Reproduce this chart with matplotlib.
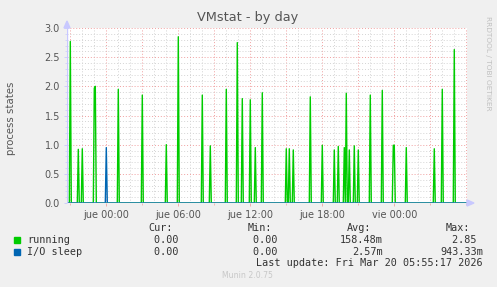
import numpy as np
import matplotlib
matplotlib.use("Agg")
import matplotlib.pyplot as plt

# ---- data (hours relative to "jue 00:00") ----
run_t = [-3.0, -2.33, -2.0, -1.0, -0.917, 1.0, 3.0, 5.0, 6.0, 8.0, 8.67, 10.0, 10.92,
         11.33, 12.0, 12.42, 13.0, 15.0, 15.25, 15.58, 17.0, 18.0, 19.0, 19.33, 19.83,
         20.0, 20.25, 20.67, 21.0, 22.0, 23.0, 23.92, 24.0, 25.0, 27.33, 28.0, 29.0]
run_v = [2.77, 0.92, 0.93, 1.97, 2.00, 1.95, 1.85, 1.00, 2.85, 1.85, 0.98, 1.95, 2.75,
         1.79, 1.77, 0.95, 1.89, 0.93, 0.93, 0.91, 1.82, 0.99, 0.91, 0.97, 0.95,
         1.88, 0.91, 0.98, 0.91, 1.85, 1.93, 0.99, 0.99, 0.95, 0.93, 1.95, 2.63]
io_t = [0.0]
io_v = [0.95]

tick_hours = [0, 6, 12, 18, 24]
tick_labels = ["jue 00:00", "jue 06:00", "jue 12:00", "jue 18:00", "vie 00:00"]

legend_names = ["running", "I/O sleep"]
legend_colors = ["#00CC00", "#0066B3"]
cur_vals = ["0.00 ", "0.00 "]
min_vals = ["0.00 ", "0.00 "]
avg_vals = ["158.48m", "2.57m"]
max_vals = ["2.85 ", "943.33m"]

# ---- time grid (5-minute samples) ----
t0 = -3.25
n = 400
t = t0 + np.arange(n) / 12.0

def series(ts, vs):
    y = np.zeros(n)
    for tt, vv in zip(ts, vs):
        i = int(round((tt - t0) * 12))
        if 0 <= i < n:
            y[i] = vv
    return y

run_y = series(run_t, run_v)
io_y = series(io_t, io_v)

W, H = 497, 287
fig = plt.figure(figsize=(W / 100, H / 100), dpi=100)
fig.patch.set_facecolor("#F0F0F0")

px_l, px_r, px_t, px_b = 67, 467, 28, 203
ax = fig.add_axes([px_l / W, 1 - px_b / H, (px_r - px_l) / W, (px_b - px_t) / H])
ax.set_facecolor("white")

xmin, xmax = -3.275, 30.06
ax.set_xlim(xmin, xmax)
ax.set_ylim(0, 3.0)

# grid
for h in np.arange(-3, 31, 1):
    major = (h % 3 == 0)
    ax.axvline(h, color="#F0A0A0" if major else "#D4D4D4", lw=0.7,
               ls=(0, (1, 2)), zorder=1)
for v in np.arange(0.1, 3.001, 0.1):
    major = abs(v / 0.5 - round(v / 0.5)) < 1e-6
    ax.axhline(v, color="#F0A0A0" if major else "#D4D4D4", lw=0.7,
               ls=(0, (1, 2)), zorder=1)

ax.plot(t, run_y, color=legend_colors[0], lw=1.0, zorder=3)
ax.plot(t, io_y, color=legend_colors[1], lw=1.0, zorder=4)

for s in ax.spines.values():
    s.set_visible(False)
ax.axvline(xmin, color="#C8C8FF", lw=1.0, zorder=5)
ax.axhline(0, color="#8CA8E0", lw=1.0, zorder=5)

ax.set_yticks(np.arange(0, 3.01, 0.5))
ax.set_yticklabels([f"{v:.1f}" for v in np.arange(0, 3.01, 0.5)])
ax.set_yticks(np.arange(0, 3.01, 0.1), minor=True)
ax.set_xticks(tick_hours)
ax.set_xticklabels(tick_labels)
ax.set_xticks(np.arange(-3, 31, 3), minor=True)
ax.tick_params(axis="both", which="major", labelsize=7, colors="#555555",
               length=2, width=0.6, pad=3)
ax.tick_params(axis="x", which="major", color="#F0A0A0")
ax.tick_params(axis="y", which="major", color="#C8C8FF")
ax.tick_params(axis="both", which="minor", length=1.5, width=0.5, color="#C8C8FF")
ax.tick_params(axis="x", which="minor", color="#F0A0A0")

# arrows
fig.patches.append(matplotlib.patches.Polygon(
    [[(px_l - 3) / W, 1 - 28 / H], [(px_l + 3) / W, 1 - 28 / H], [px_l / W, 1 - 21 / H]],
    closed=True, transform=fig.transFigure, color="#C8C8FF", zorder=10))
fig.patches.append(matplotlib.patches.Polygon(
    [[467 / W, 1 - 200 / H], [467 / W, 1 - 206 / H], [474 / W, 1 - 203 / H]],
    closed=True, transform=fig.transFigure, color="#C8C8FF", zorder=10))

# texts
fig.text(248 / W, 1 - 18 / H, "VMstat - by day", ha="center", va="center",
         fontsize=9.3, color="#555555")
fig.text(11 / W, 1 - 118 / H, "process states", ha="center", va="center",
         rotation=90, fontsize=7.3, color="#555555")
fig.text(488 / W, 1 - 63 / H, "RRDTOOL / TOBI OETIKER", ha="center", va="center",
         rotation=-90, fontsize=5.3, color="#C0C0C0")

mono = dict(family="DejaVu Sans Mono", fontsize=7.3, color="#333333")
fig.text(173 / W, 1 - 228 / H, "Cur:", ha="right", va="center", **mono)
fig.text(272 / W, 1 - 228 / H, "Min:", ha="right", va="center", **mono)
fig.text(371 / W, 1 - 228 / H, "Avg:", ha="right", va="center", **mono)
fig.text(470 / W, 1 - 228 / H, "Max:", ha="right", va="center", **mono)
rows_y = [240, 252]
for i in range(2):
    y = 1 - rows_y[i] / H
    fig.patches.append(matplotlib.patches.Rectangle(
        (14 / W, 1 - (rows_y[i] + 3) / H), 6 / W, 6 / H,
        transform=fig.transFigure, color=legend_colors[i]))
    fig.text(27 / W, y, legend_names[i], ha="left", va="center", **mono)
    fig.text(185 / W, y, cur_vals[i], ha="right", va="center", **mono)
    fig.text(284 / W, y, min_vals[i], ha="right", va="center", **mono)
    fig.text(383 / W, y, avg_vals[i], ha="right", va="center", **mono)
    fig.text(483 / W, y, max_vals[i], ha="right", va="center", **mono)
fig.text(483 / W, 1 - 263.5 / H, "Last update: Fri Mar 20 05:55:17 2026",
         ha="right", va="center", **mono)
fig.text(247.5 / W, 1 - 276 / H, "Munin 2.0.75", ha="center", va="center",
         fontsize=5.6, color="#C8C8C8")

fig.savefig("out.png", dpi=100, facecolor=fig.get_facecolor())
